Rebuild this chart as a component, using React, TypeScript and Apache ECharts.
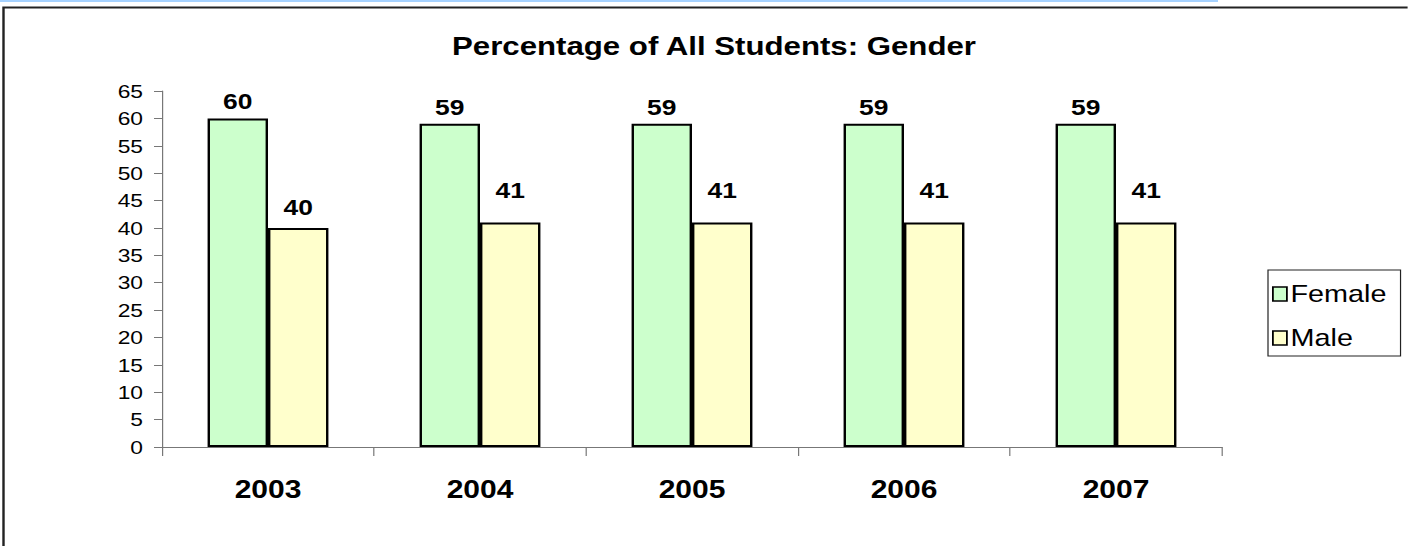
import React, { useEffect, useRef } from "react";
import * as echarts from "echarts";

const categories = ["2003", "2004", "2005", "2006", "2007"];
const femaleValues = [60, 59, 59, 59, 59];
const maleValues = [40, 41, 41, 41, 41];
const seriesNames = ["Female", "Male"];
const titleText = "Percentage of All Students: Gender";

// label gap above each bar (style only), as in the source picture
const femaleLabelGap = [6, 6, 6, 6, 6];
const maleLabelGap = [10, 21, 21, 21, 21];

const W = 1408;
const H = 546;
const S = 1.2; // horizontal stretch of the source picture
const X = (x: number) => x / S;
const FONT = "'Liberation Sans', Arial, Helvetica, sans-serif";

const labelStyle = {
  show: true,
  position: "top",
  fontFamily: FONT,
  fontSize: 22,
  fontWeight: "bold",
  color: "#000",
};

export default function App() {
  const ref = useRef<HTMLDivElement>(null);
  useEffect(() => {
    if (!ref.current) return;
    const chart = echarts.init(ref.current, undefined, { renderer: "svg" });
    chart.setOption({
      animation: false,
      backgroundColor: "#ffffff",
      textStyle: { fontFamily: FONT },
      title: {
        text: titleText,
        left: X(708),
        top: 28,
        textAlign: "center",
        textStyle: { fontFamily: FONT, fontSize: 26, fontWeight: "bold", color: "#000" },
      },
      graphic: [
        {
          type: "rect",
          shape: { x: 0, y: 0, width: X(1218), height: 2 },
          style: { fill: "#a6d2ff" },
          silent: true,
        },
        {
          type: "rect",
          shape: { x: X(3.5), y: 7.5, width: X(1430), height: 560 },
          style: { fill: "none", stroke: "#222", lineWidth: 2 },
          silent: true,
        },
      ],
      legend: {
        orient: "vertical",
        left: X(1268),
        top: 270,
        data: seriesNames,
        icon: "rect",
        itemWidth: X(14),
        itemHeight: 14,
        itemGap: 20,
        padding: [12, X(14), 6, X(4)],
        borderColor: "#222",
        borderWidth: 1,
        textStyle: { fontFamily: FONT, fontSize: 24, color: "#000", padding: [0, 0, 0, -2] },
        itemStyle: { borderColor: "#000", borderWidth: 1.5 },
      },
      grid: {
        left: X(162),
        top: 91,
        width: X(1060),
        height: 356,
        containLabel: false,
      },
      xAxis: {
        type: "category",
        data: categories,
        axisLine: { lineStyle: { color: "#777", width: 1 } },
        axisTick: { show: true, length: 9, lineStyle: { color: "#777" } },
        axisLabel: {
          margin: 30,
          fontFamily: FONT,
          fontSize: 25,
          fontWeight: "bold",
          color: "#000",
        },
      },
      yAxis: {
        type: "value",
        min: 0,
        max: 65,
        interval: 5,
        splitLine: { show: false },
        axisLine: { show: true, lineStyle: { color: "#777", width: 1 } },
        axisTick: { show: true, length: X(8), lineStyle: { color: "#777" } },
        axisLabel: { margin: X(19), fontFamily: FONT, fontSize: 19, color: "#000" },
      },
      series: [
        {
          name: seriesNames[0],
          type: "bar",
          data: femaleValues.map((v, i) => ({ value: v, label: { distance: femaleLabelGap[i] } })),
          barGap: "0%",
          barCategoryGap: "43%",
          itemStyle: { color: "#ccffcc", borderColor: "#000", borderWidth: 2 },
          label: labelStyle,
        },
        {
          name: seriesNames[1],
          type: "bar",
          data: maleValues.map((v, i) => ({ value: v, label: { distance: maleLabelGap[i] } })),
          barGap: "0%",
          barCategoryGap: "43%",
          itemStyle: { color: "#ffffcc", borderColor: "#000", borderWidth: 2 },
          label: labelStyle,
        },
      ],
    });
    return () => chart.dispose();
  }, []);
  return (
    <div
      style={{
        position: "fixed",
        left: 0,
        top: 0,
        width: W,
        height: H,
        overflow: "hidden",
        background: "#fff",
      }}
    >
      <div
        ref={ref}
        style={{
          width: W / S,
          height: H,
          transform: `scaleX(${S})`,
          transformOrigin: "0 0",
        }}
      />
    </div>
  );
}
